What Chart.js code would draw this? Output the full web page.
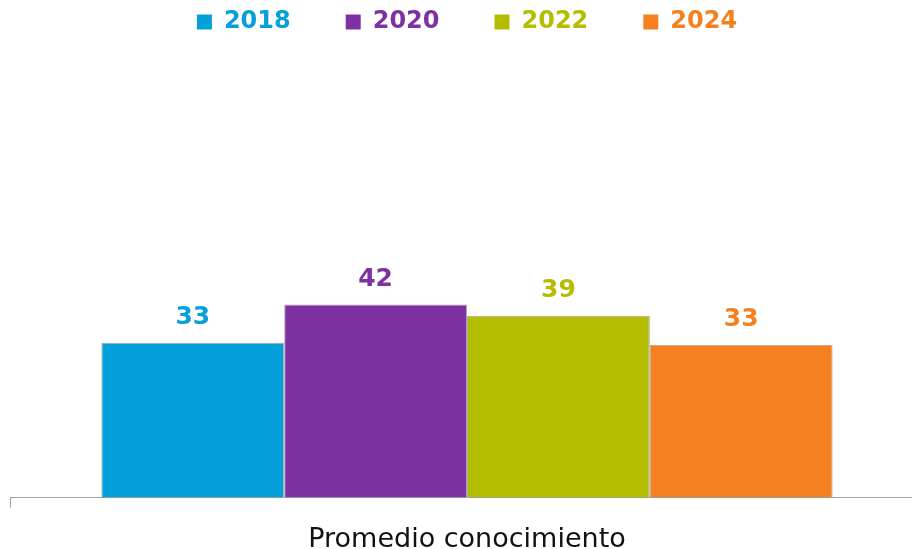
<!DOCTYPE html>
<html>
<head>
<meta charset="utf-8">
<script src="https://cdn.jsdelivr.net/npm/chart.js@4.4.1/dist/chart.umd.min.js"></script>
<style>
  html, body { margin: 0; padding: 0; background: #fff; }
  #view { position: relative; width: 912px; height: 549px; overflow: hidden; }
  /* canvas is a bit larger than the view: legend padding on top, axis runs past the right edge */
  #wrap { position: absolute; left: 0; top: -45px; width: 924px; height: 617px; }
</style>
</head>
<body>
<div id="view"><div id="wrap"><canvas id="chart"></canvas></div></div>
<script>
// data
const categories = ['Promedio conocimiento'];
const years = ['2018', '2020', '2022', '2024'];
const values2018 = [33.45];
const values2020 = [41.7];
const values2022 = [39.3];
const values2024 = [33.0];
const colors = ['#03A0DC', '#7E31A3', '#B5BD00', '#F5801F'];

const seriesValues = [values2018, values2020, values2022, values2024];
const FONT = '"DejaVu Sans", sans-serif';

// value labels above each bar
const barLabels = {
    id: 'barLabels',
    afterDatasetsDraw(chart) {
        const ctx = chart.ctx;
        ctx.save();
        ctx.font = 'bold 25px ' + FONT;
        ctx.textAlign = 'center';
        ctx.textBaseline = 'middle';
        chart.data.datasets.forEach((ds, i) => {
            const meta = chart.getDatasetMeta(i);
            meta.data.forEach((bar, j) => {
                ctx.fillStyle = colors[i];
                ctx.fillText(Math.round(ds.data[j]), bar.x, bar.y - 25);
            });
        });
        ctx.restore();
    }
};

const datasets = years.map((y, i) => ({
    label: y,
    data: seriesValues[i],
    backgroundColor: colors[i],
    borderColor: '#a9a9a9',
    borderWidth: 1,
    categoryPercentage: 0.8,
    barPercentage: 1
}));

new Chart(document.getElementById('chart'), {
    type: 'bar',
    data: { labels: categories, datasets: datasets },
    options: {
        responsive: true,
        maintainAspectRatio: false,
        animation: false,
        layout: { padding: { left: 10, right: 0, top: 0, bottom: 0 } },
        plugins: {
            tooltip: { enabled: false },
            legend: {
                position: 'top',
                labels: {
                    boxWidth: 15,
                    boxHeight: 15,
                    padding: 55,
                    font: { family: FONT, size: 24, weight: 'bold' },
                    generateLabels(chart) {
                        return chart.data.datasets.map((ds, i) => ({
                            text: ds.label,
                            fillStyle: colors[i],
                            strokeStyle: colors[i],
                            lineWidth: 0,
                            fontColor: colors[i],
                            datasetIndex: i
                        }));
                    }
                }
            }
        },
        scales: {
            x: {
                grid: {
                    display: true,
                    offset: true,
                    drawOnChartArea: false,
                    drawTicks: true,
                    tickLength: 10,
                    color: '#a0a0a0'
                },
                border: { display: true, color: '#a0a0a0', width: 1 },
                ticks: {
                    color: '#111',
                    padding: 16,
                    font: { family: FONT, size: 27 }
                }
            },
            y: {
                display: false,
                min: 0,
                max: 98
            }
        }
    },
    plugins: [barLabels]
});
</script>
</body>
</html>
